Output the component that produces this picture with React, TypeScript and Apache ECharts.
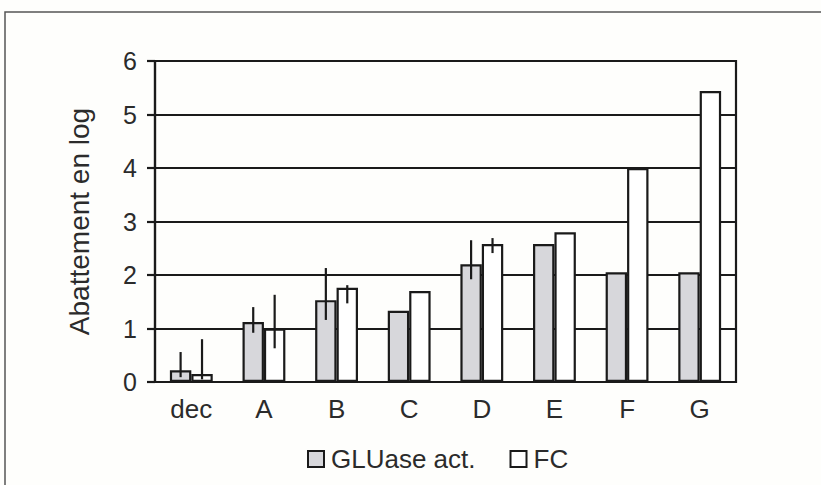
import React, { useEffect, useRef } from "react";
import * as echarts from "echarts";

const categories = ["dec", "A", "B", "C", "D", "E", "F", "G"];
const gluaseValues = [0.22, 1.12, 1.53, 1.33, 2.2, 2.58, 2.05, 2.05];
const fcValues = [0.15, 1.0, 1.76, 1.7, 2.58, 2.8, 4.0, 5.44];
// error bars: [categoryIndex, low, high]
const gluaseErrors = [
  [0, 0.09, 0.56],
  [1, 0.92, 1.4],
  [2, 1.16, 2.13],
  [4, 1.92, 2.65],
];
const fcErrors = [
  [0, 0.05, 0.8],
  [1, 0.63, 1.63],
  [2, 1.47, 1.81],
  [4, 2.41, 2.69],
];
const yTicks = [0, 1, 2, 3, 4, 5, 6];
const seriesNames = ["GLUase act.", "FC"];

const FONT = "'Liberation Sans', Arial, sans-serif";
const INK = "#1a1a1a";
const TEXT = "#2b2b2b";
const BAR_CAT_GAP = 0.41;

function makeErrorRender(side: number) {
  return (params: any, api: any) => {
    const idx = api.value(0);
    const lo = api.coord([idx, api.value(1)]);
    const hi = api.coord([idx, api.value(2)]);
    const catW = api.size([1, 0])[0];
    const bw = (catW * (1 - BAR_CAT_GAP)) / 2;
    const x = lo[0] + (side * bw) / 2;
    return {
      type: "line",
      shape: { x1: x, y1: lo[1], x2: x, y2: hi[1] },
      style: { stroke: INK, lineWidth: 2.2 },
    };
  };
}

export default function App() {
  const ref = useRef<HTMLDivElement>(null);
  useEffect(() => {
    if (!ref.current) return;
    const chart = echarts.init(ref.current, undefined, { renderer: "svg" });
    chart.setOption({
      animation: false,
      backgroundColor: "#fefefc",
      textStyle: { fontFamily: FONT },
      graphic: [
        {
          type: "rect",
          shape: { x: 5, y: 12, width: 900, height: 600 },
          style: { fill: "none", stroke: "#555", lineWidth: 1.5 },
          z: 0,
        },
      ],
      grid: {
        left: 155,
        right: 85,
        top: 61,
        bottom: 103,
        show: true,
        borderColor: INK,
        borderWidth: 2.2,
        backgroundColor: "transparent",
      },
      legend: {
        left: 302,
        top: 441,
        itemWidth: 16,
        itemHeight: 16,
        itemGap: 34,
        icon: "rect",
        data: seriesNames,
        textStyle: {
          fontFamily: FONT,
          fontSize: 26,
          color: TEXT,
          padding: [0, 0, 0, 2],
        },
      },
      xAxis: {
        type: "category",
        data: categories,
        axisLine: { show: true, lineStyle: { color: INK, width: 2.2 } },
        axisTick: { show: false },
        axisLabel: {
          fontFamily: FONT,
          fontSize: 26,
          color: TEXT,
          margin: 14,
        },
      },
      yAxis: {
        type: "value",
        min: 0,
        max: 6,
        interval: 1,
        name: "Abattement en log",
        nameLocation: "middle",
        nameRotate: 90,
        nameGap: 62,
        nameTextStyle: { fontFamily: FONT, fontSize: 28, color: TEXT },
        axisLine: { show: true, lineStyle: { color: INK, width: 2.2 } },
        axisTick: { show: true, length: 8, lineStyle: { color: INK, width: 2.2 } },
        splitLine: { show: true, lineStyle: { color: INK, width: 2.2 } },
        axisLabel: {
          fontFamily: FONT,
          fontSize: 25,
          color: TEXT,
          margin: 18,
          formatter: (v: number) => (yTicks.includes(v) ? String(v) : ""),
        },
      },
      series: [
        {
          name: seriesNames[0],
          type: "bar",
          data: gluaseValues,
          barGap: "0%",
          barCategoryGap: BAR_CAT_GAP * 100 + "%",
          itemStyle: { color: "#d7d7db", borderColor: INK, borderWidth: 2.2 },
          z: 3,
        },
        {
          name: seriesNames[1],
          type: "bar",
          data: fcValues,
          barGap: "0%",
          barCategoryGap: BAR_CAT_GAP * 100 + "%",
          itemStyle: { color: "#ffffff", borderColor: INK, borderWidth: 2.2 },
          z: 3,
        },
        {
          type: "custom",
          renderItem: makeErrorRender(-1),
          data: gluaseErrors,
          encode: { x: 0, y: [1, 2] },
          z: 5,
          silent: true,
        },
        {
          type: "custom",
          renderItem: makeErrorRender(1),
          data: fcErrors,
          encode: { x: 0, y: [1, 2] },
          z: 5,
          silent: true,
        },
      ],
    });
    return () => chart.dispose();
  }, []);
  return (
    <div
      ref={ref}
      style={{ position: "fixed", left: 0, top: 0, width: 821, height: 485 }}
    />
  );
}
